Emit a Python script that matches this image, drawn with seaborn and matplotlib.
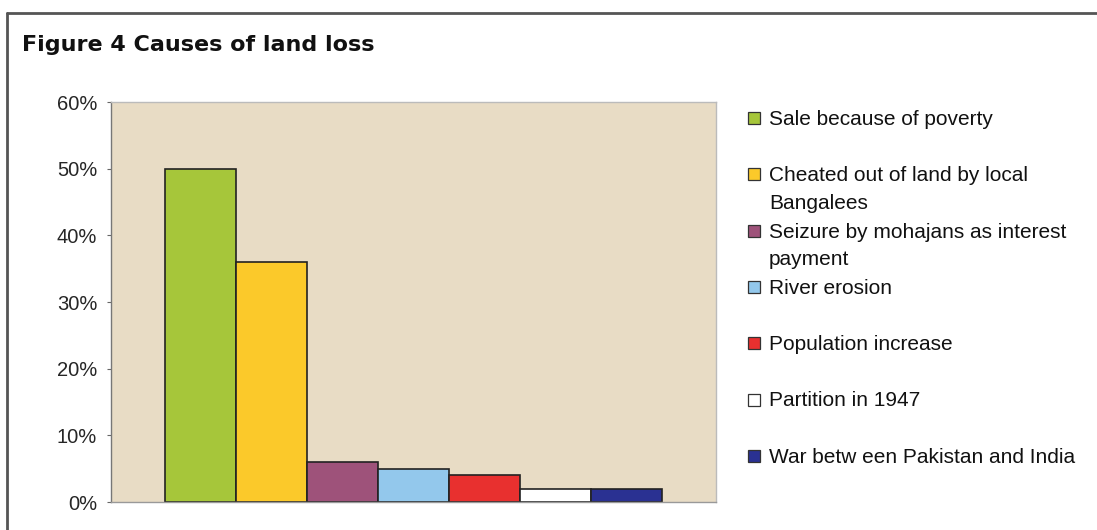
import matplotlib.pyplot as plt
import matplotlib.patches as mpatches
from matplotlib.lines import Line2D
import seaborn as sns
import pandas as pd

# data
causes = ['Sale because of poverty',
          'Cheated out of land by local\nBangalees',
          'Seizure by mohajans as interest\npayment',
          'River erosion',
          'Population increase',
          'Partition in 1947',
          'War betw een Pakistan and India']
share = [50, 36, 6, 5, 4, 2, 2]
colors = ['#a6c63a', '#fbc92a', '#9e527a', '#93c8ec', '#e8302f', '#ffffff', '#2a3192']
yticks = [0, 10, 20, 30, 40, 50, 60]

sns.set_style('white')
plt.rcParams['font.family'] = ['Liberation Sans', 'DejaVu Sans']

df = pd.DataFrame({'cause': causes, 'share': share})

fig = plt.figure(figsize=(10.97, 5.30), dpi=100)
ax = fig.add_axes([0.1012, 0.0528, 0.5515, 0.7547])
ax.set_facecolor('#e8dcc5')

sns.barplot(data=df, x='cause', y='share', hue='cause', palette=colors,
            width=1.0, legend=False, edgecolor='#222222', linewidth=1.2,
            saturation=1, ax=ax)

ax.set_xlim(-1.257, 7.257)
ax.set_ylim(0, 60)
ax.set_yticks(yticks)
ax.set_yticklabels([f'{t}%' for t in yticks], fontsize=14.5)
ax.set_xticks([])
ax.set_xlabel('')
ax.set_ylabel('')
ax.tick_params(axis='y', left=True, length=3, width=0.8, color='#666666', pad=7)
for s in ax.spines.values():
    s.set_color('#bbbbbb')
    s.set_linewidth(1)
ax.spines['left'].set_color('#777777')
ax.spines['bottom'].set_color('#999999')

# legend, first lines evenly spaced like the excel one
top = 118
step = 56.3
for i, (name, c) in enumerate(zip(causes, colors)):
    yc = 1 - (top + i * step) / 530
    fig.add_artist(mpatches.Rectangle((748 / 1097, yc - 6 / 530), 12 / 1097, 12 / 530,
                                      facecolor=c, edgecolor='#333333', linewidth=0.9,
                                      transform=fig.transFigure))
    fig.text(769 / 1097, yc + 8 / 530, name, fontsize=15, va='top', ha='left',
             linespacing=1.55, color='#111111')

fig.text(22 / 1097, 1 - 45 / 530, 'Figure 4 Causes of land loss', fontsize=16,
         fontweight='bold', family='DejaVu Sans', va='center', color='#111111')

# outer frame
fig.add_artist(Line2D([7 / 1097, 1], [1 - 13 / 530, 1 - 13 / 530], color='#555555',
                      linewidth=2, transform=fig.transFigure))
fig.add_artist(Line2D([7 / 1097, 7 / 1097], [0, 1 - 13 / 530], color='#555555',
                      linewidth=2, transform=fig.transFigure))

fig.savefig('out.png', dpi=100)
